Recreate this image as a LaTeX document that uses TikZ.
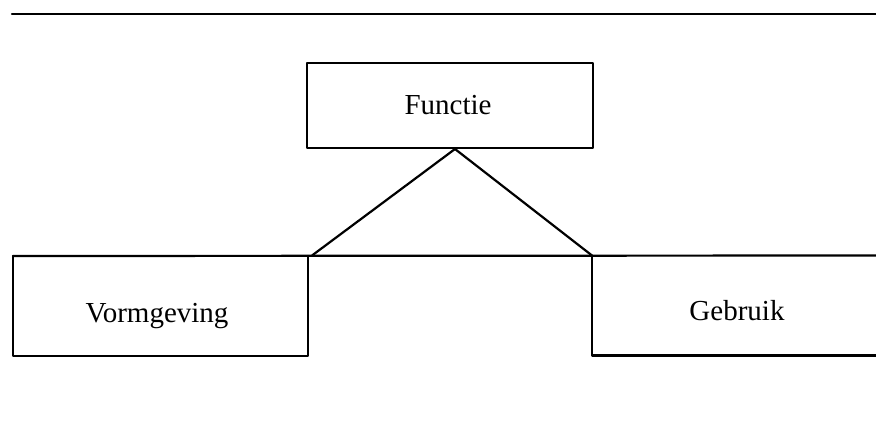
\documentclass[tikz,border=0pt]{standalone}
\usepackage{fontspec}
\setmainfont{Liberation Serif}
\begin{document}
\begin{tikzpicture}[x=1pt,y=-1pt,
  rule/.style={line width=2.2pt, line cap=round, line join=round},
  frame/.style={rectangle, inner sep=0pt, outer sep=0pt},
  label/.style={anchor=base, inner sep=0pt, font=\fontsize{29}{34}\selectfont}]
  \useasboundingbox (0,0) rectangle (876,421);

  % top rule
  \coordinate (topL) at (12,14);
  \coordinate (topR) at (876,14);
  \draw[rule] (topL) -- (topR);

  % boxes
  \node[frame, draw, rule, minimum width=286pt, minimum height=85pt] (functie) at (450,105.5) {};
  \node[frame, minimum width=295pt, minimum height=100pt] (vorm) at (160.5,306) {};
  \node[frame, minimum width=284pt, minimum height=100pt] (gebruik) at (734,305.5) {};

  % labels
  \node[label] (tfun) at (448,114) {Functie};
  \node[label] (tvorm) at (157,322) {Vormgeving};
  \node[label] (tgeb) at (737,320) {Gebruik};

  % base line carrying the two lower boxes
  \coordinate (baseR) at (876,255.5);
  \draw[rule] (vorm.north west) -- (baseR);
  \draw[rule] (vorm.north west) -- (vorm.south west) -- (vorm.south east) -- (vorm.north east);
  \draw[rule] (gebruik.north west) -- (gebruik.south west) -- (gebruik.south east);

  % connectors from the top box
  \coordinate (apex) at (455,149);
  \coordinate (footL) at (312,255.5);
  \draw[rule] (footL) -- (apex) -- (gebruik.north west);
\end{tikzpicture}
\end{document}
